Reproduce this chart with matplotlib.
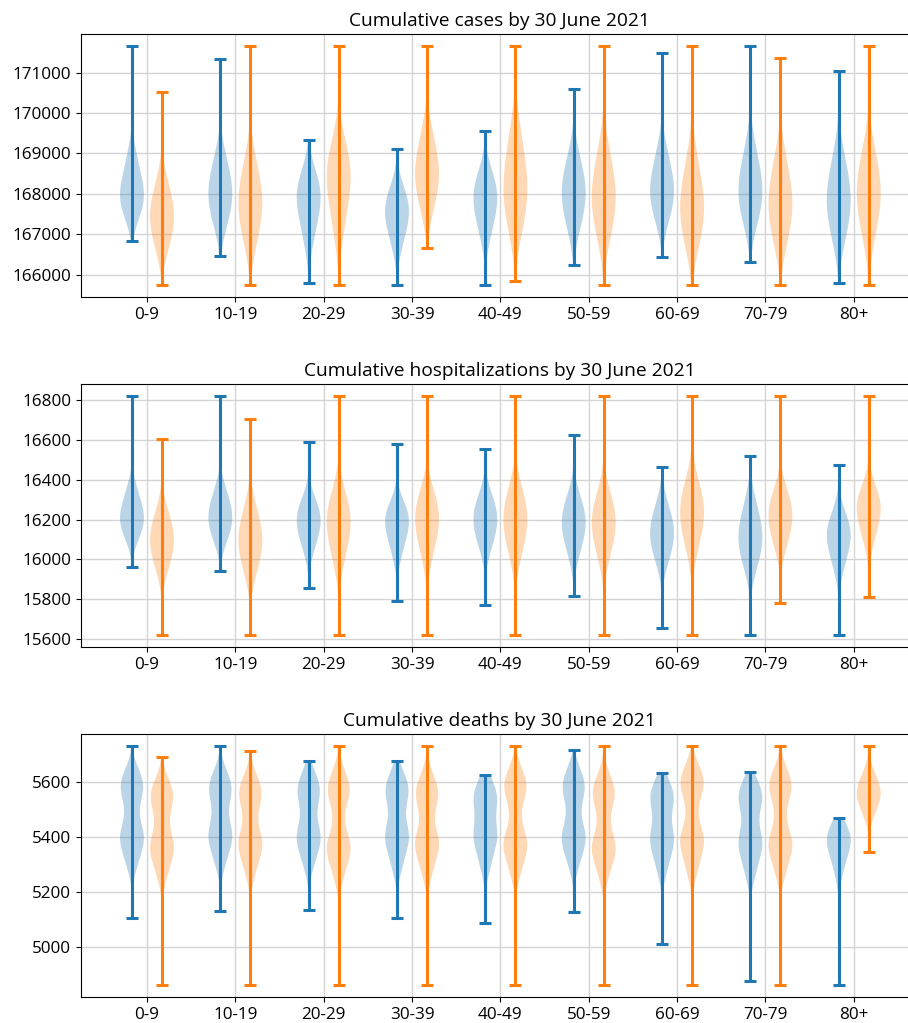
import numpy as np
import matplotlib
matplotlib.use("Agg")
import matplotlib.pyplot as plt
from matplotlib import mlab

plt.rcParams["font.family"] = ["Open Sans", "DejaVu Sans"]
plt.rcParams["font.size"] = 12.3

age_groups = ["0-9", "10-19", "20-29", "30-39", "40-49", "50-59", "60-69", "70-79", "80+"]

# ---- cumulative cases ----
cases_blue_min = [166827, 166472, 165794, 165745, 165745, 166249, 166430, 166323, 165794]
cases_blue_max = [171661, 171339, 169331, 169108, 169562, 170595, 171496, 171661, 171050]
cases_orange_min = [165745, 165745, 165745, 166662, 165836, 165745, 165745, 165745, 165745]
cases_orange_max = [170521, 171661, 171661, 171661, 171661, 171661, 171661, 171355, 171661]
cases_blue = [
    [167397, 167662, 167825, 167960, 168124, 168333, 168584, 168992],
    [167158, 167523, 167749, 167936, 168124, 168332, 168584, 168990],
    [166797, 167245, 167521, 167751, 167934, 168091, 168279, 168584],
    [166660, 167026, 167253, 167441, 167599, 167745, 167921, 168205],
    [166895, 167301, 167553, 167761, 167934, 168091, 168279, 168584],
    [167060, 167467, 167718, 167926, 168124, 168332, 168584, 168990],
    [167287, 167633, 167847, 168024, 168212, 168431, 168694, 169121],
    [167191, 167577, 167816, 168014, 168222, 168461, 168750, 169218],
    [166797, 167245, 167521, 167751, 167979, 168229, 168530, 169018],
]
cases_orange = [
    [166579, 166944, 167170, 167358, 167541, 167739, 167978, 168364],
    [166716, 167163, 167439, 167668, 167891, 168131, 168420, 168887],
    [167003, 167573, 167925, 168217, 168455, 168663, 168914, 169321],
    [167556, 167962, 168214, 168422, 168630, 168859, 169135, 169583],
    [167032, 167520, 167821, 168071, 168339, 168651, 169028, 169638],
    [166832, 167300, 167589, 167829, 168067, 168327, 168641, 169149],
    [166633, 167081, 167357, 167586, 167824, 168095, 168421, 168949],
    [166716, 167163, 167439, 167668, 167901, 168161, 168475, 168984],
    [166866, 167354, 167656, 167906, 168144, 168394, 168695, 169183],
]

# ---- cumulative hospitalizations ----
hosp_blue_min = [15963, 15940, 15858, 15789, 15769, 15816, 15657, 15620, 15620]
hosp_blue_max = [16820, 16820, 16591, 16579, 16554, 16623, 16466, 16517, 16474]
hosp_orange_min = [15620, 15620, 15620, 15620, 15620, 15620, 15620, 15779, 15813]
hosp_orange_max = [16604, 16705, 16820, 16820, 16820, 16820, 16820, 16820, 16820]
hosp_blue = [
    [16099, 16147, 16177, 16202, 16229, 16261, 16299, 16361],
    [16083, 16138, 16172, 16201, 16229, 16261, 16299, 16361],
    [16038, 16101, 16141, 16173, 16202, 16228, 16260, 16311],
    [16015, 16085, 16128, 16164, 16192, 16215, 16243, 16288],
    [16041, 16107, 16147, 16181, 16211, 16241, 16276, 16334],
    [16015, 16085, 16128, 16164, 16196, 16228, 16266, 16328],
    [15974, 16040, 16081, 16115, 16147, 16181, 16221, 16287],
    [15948, 16018, 16061, 16097, 16133, 16173, 16221, 16300],
    [15948, 16018, 16061, 16097, 16127, 16154, 16187, 16241],
]
hosp_orange = [
    [15940, 16006, 16047, 16081, 16113, 16147, 16188, 16254],
    [15921, 15995, 16041, 16079, 16115, 16153, 16199, 16273],
    [15975, 16062, 16116, 16160, 16198, 16234, 16277, 16347],
    [16002, 16084, 16135, 16177, 16213, 16247, 16288, 16354],
    [16002, 16084, 16135, 16177, 16215, 16253, 16299, 16373],
    [15995, 16074, 16122, 16162, 16198, 16234, 16277, 16347],
    [16035, 16118, 16169, 16211, 16249, 16287, 16333, 16407],
    [16048, 16118, 16161, 16197, 16229, 16261, 16299, 16361],
    [16082, 16152, 16195, 16231, 16261, 16288, 16321, 16375],
]

# ---- cumulative deaths ----
deaths_blue_min = [5106, 5130, 5133, 5106, 5088, 5128, 5010, 4875, 4860]
deaths_blue_max = [5733, 5733, 5679, 5677, 5627, 5718, 5633, 5639, 5470]
deaths_orange_min = [4860, 4860, 4860, 4860, 4860, 4860, 4860, 4860, 5344]
deaths_orange_max = [5691, 5716, 5733, 5733, 5733, 5733, 5733, 5733, 5733]
deaths_blue = [
    [5300, 5355, 5386, 5408, 5430, 5493, 5556, 5578, 5600, 5640],
    [5305, 5362, 5392, 5414, 5436, 5493, 5550, 5572, 5594, 5635],
    [5300, 5355, 5386, 5408, 5430, 5487, 5544, 5566, 5588, 5630],
    [5290, 5350, 5386, 5408, 5430, 5487, 5544, 5566, 5588, 5630],
    [5290, 5350, 5386, 5408, 5430, 5475, 5520, 5542, 5564, 5600],
    [5300, 5355, 5386, 5408, 5430, 5493, 5556, 5578, 5600, 5645],
    [5280, 5340, 5374, 5396, 5418, 5469, 5520, 5542, 5564, 5600],
    [5265, 5325, 5362, 5384, 5406, 5463, 5520, 5542, 5564, 5600],
    [5270, 5320, 5350, 5372, 5390, 5405, 5420, 5440],
]
deaths_orange = [
    [5262, 5320, 5350, 5372, 5394, 5457, 5520, 5542, 5564, 5605],
    [5272, 5332, 5362, 5384, 5406, 5469, 5532, 5554, 5576, 5617],
    [5260, 5320, 5350, 5372, 5394, 5469, 5544, 5566, 5588, 5635],
    [5270, 5330, 5362, 5384, 5406, 5469, 5532, 5554, 5576, 5620],
    [5270, 5330, 5362, 5384, 5406, 5481, 5556, 5578, 5600, 5645],
    [5262, 5320, 5350, 5372, 5394, 5463, 5532, 5554, 5576, 5620],
    [5275, 5335, 5374, 5396, 5418, 5493, 5568, 5590, 5612, 5655],
    [5270, 5330, 5362, 5384, 5406, 5481, 5556, 5578, 5600, 5645],
    [5490, 5525, 5545, 5560, 5575, 5595, 5625],
]


def violin_stats(cores, mins, maxs, bw):
    stats = []
    for core, lo, hi in zip(cores, mins, maxs):
        kde = mlab.GaussianKDE(core, bw_method=bw)
        coords = np.linspace(lo, hi, 300)
        stats.append(dict(coords=coords, vals=kde.evaluate(coords),
                          mean=np.mean(core), median=np.median(core),
                          min=lo, max=hi))
    return stats


def draw(ax, title, blue, orange, bw):
    x = np.arange(len(age_groups))
    for (cores, mins, maxs), off, color in [(blue, -0.17, "#1f77b4"), (orange, 0.17, "#ff7f0e")]:
        parts = ax.violin(violin_stats(cores, mins, maxs, bw), positions=x + off,
                          widths=0.27, showextrema=True)
        for body in parts["bodies"]:
            body.set_facecolor(color)
            body.set_edgecolor("none")
            body.set_alpha(0.3)
        for key in ("cbars", "cmins", "cmaxes"):
            parts[key].set_color(color)
            parts[key].set_linewidth(2.2)
    ax.set_xticks(x)
    ax.set_xticklabels(age_groups)
    ax.set_xlim(-0.747, 8.727)
    ax.set_axisbelow(True)
    ax.grid(True, color="#d4d4d4", linewidth=1)
    ax.set_title(title, fontsize=13.8)


fig = plt.figure(figsize=(9.08, 10.23), dpi=100)
ax1 = fig.add_axes([0.0892, 0.7097, 0.9218, 0.2571])
ax2 = fig.add_axes([0.0892, 0.3675, 0.9218, 0.2571])
ax3 = fig.add_axes([0.0892, 0.0254, 0.9218, 0.2571])

draw(ax1, "Cumulative cases by 30 June 2021",
     (cases_blue, cases_blue_min, cases_blue_max),
     (cases_orange, cases_orange_min, cases_orange_max), 0.76)
draw(ax2, "Cumulative hospitalizations by 30 June 2021",
     (hosp_blue, hosp_blue_min, hosp_blue_max),
     (hosp_orange, hosp_orange_min, hosp_orange_max), 0.76)
draw(ax3, "Cumulative deaths by 30 June 2021",
     (deaths_blue, deaths_blue_min, deaths_blue_max),
     (deaths_orange, deaths_orange_min, deaths_orange_max),
     lambda k: 48 / k.dataset.std(ddof=1))

fig.savefig("out.png", dpi=100)
